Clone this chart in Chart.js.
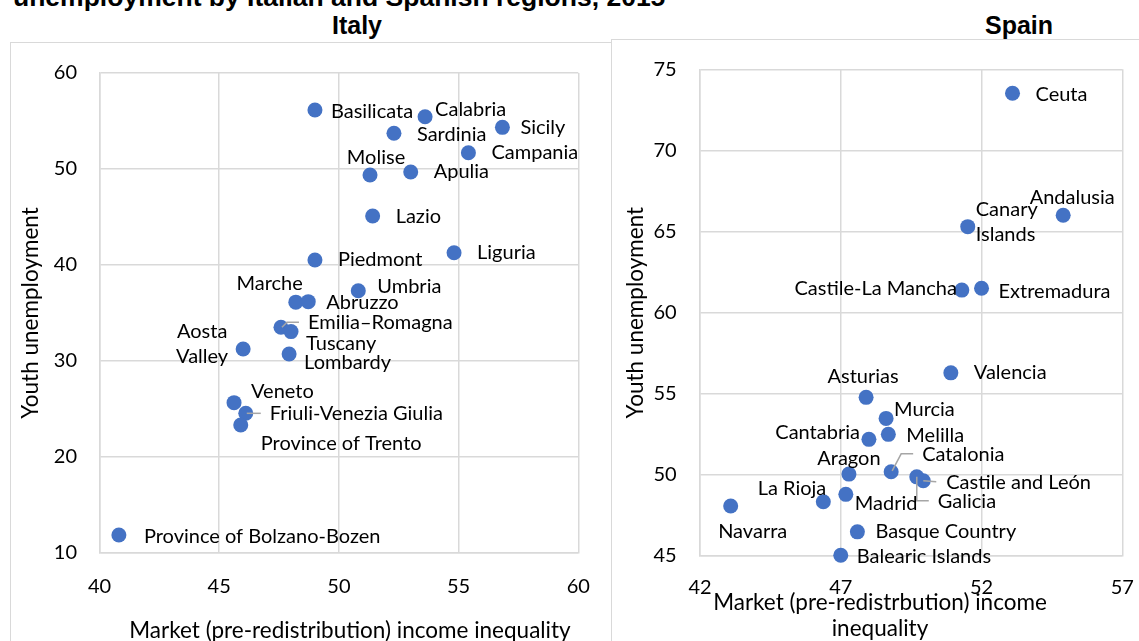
<!DOCTYPE html>
<html><head><meta charset="utf-8">
<script src="https://cdn.jsdelivr.net/npm/chart.js@4.4.1/dist/chart.umd.min.js"></script>
<style>
html,body{margin:0;padding:0;background:#fff;overflow:hidden;width:1139px;height:641px;font-family:Lato,sans-serif;}
.panel{position:absolute;border:1.5px solid #d9d9d9;background:#fff;box-sizing:border-box}
canvas{position:absolute}
.t{position:absolute;white-space:nowrap;color:#000}
.ttl{font-family:"Liberation Sans",Arial,sans-serif;font-weight:bold;font-size:25px;line-height:25px;transform:translate(-50%,-50%)}
.xt{font-family:Lato,sans-serif;font-size:22.5px;line-height:26px;transform:translate(-50%,-50%);text-align:center}
</style></head><body>
<div class="t" style="left:13px;top:-15px;font-family:'Liberation Sans',Arial,sans-serif;font-weight:bold;font-size:26.5px;line-height:24px">unemployment by Italian and Spanish regions, 2015</div>
<div class="t ttl" style="left:357px;top:25px">Italy</div>
<div class="t ttl" style="left:1019px;top:25px">Spain</div>
<div class="panel" style="left:10px;top:42px;width:603px;height:640px"></div>
<div class="panel" style="left:611px;top:39px;width:540px;height:640px"></div>
<canvas id="cIt" width="600" height="598" style="left:11px;top:43px"></canvas>
<canvas id="cEs" width="527" height="601" style="left:612px;top:40px"></canvas>
<div class="t xt" style="left:350px;top:630px">Market (pre-redistribution) income inequality</div>
<div class="t xt" style="left:880px;top:615px">Market (pre-redistrbution) income<br>inequality</div>
<script>
// ---------- DATA ----------
const italyRegions = ["Basilicata","Calabria","Sicily","Sardinia","Campania","Molise","Apulia","Lazio","Piedmont","Liguria","Umbria","Marche","Abruzzo","Emilia–Romagna","Tuscany","Aosta Valley","Lombardy","Veneto","Friuli-Venezia Giulia","Province of Trento","Province of Bolzano-Bozen"];
const italyInequality = [49.0,53.6,56.83,52.3,55.41,51.3,53.0,51.41,49.0,54.81,50.81,48.2,48.72,47.58,48.0,46.0,47.92,45.62,46.11,45.9,40.81];
const italyYouthUnemployment = [56.15,55.45,54.34,53.72,51.7,49.38,49.69,45.1,40.52,41.28,37.32,36.13,36.18,33.51,33.06,31.25,30.73,25.66,24.55,23.33,11.88];

const spainRegions = ["Ceuta","Canary Islands","Andalusia","Castile-La Mancha","Extremadura","Valencia","Asturias","Murcia","Melilla","Cantabria","Catalonia","Aragon","Castile and León","Galicia","Madrid","La Rioja","Navarra","Basque Country","Balearic Islands"];
const spainInequality = [53.1,51.51,54.9,51.3,52.0,50.91,47.9,48.61,48.69,48.0,48.79,47.29,49.93,49.7,47.18,46.38,43.09,47.59,47.0];
const spainYouthUnemployment = [73.52,65.3,66.0,61.39,61.5,56.29,54.78,53.48,52.5,52.19,50.19,50.05,49.64,49.88,48.8,48.34,48.08,46.49,45.05];

const italyXTicks = [40,45,50,55,60];
const italyYTicks = [10,20,30,40,50,60];
const spainXTicks = [42,47,52,57];
const spainYTicks = [45,50,55,60,65,70,75];

// ---------- LABEL PLACEMENT (layout only) ----------
const italyLabelPlacement = {
  "Basilicata":{dx:16,dy:2},
  "Calabria":{dx:10,dy:-7},
  "Sicily":{dx:18,dy:0},
  "Sardinia":{dx:23,dy:1},
  "Campania":{dx:23,dy:0},
  "Molise":{dx:6,dy:-17,align:"center"},
  "Apulia":{dx:23,dy:0},
  "Lazio":{dx:23,dy:1},
  "Piedmont":{dx:23,dy:0},
  "Liguria":{dx:23,dy:0},
  "Umbria":{dx:19,dy:-4},
  "Marche":{dx:7,dy:-19,align:"right"},
  "Abruzzo":{dx:18,dy:1},
  "Emilia–Romagna":{dx:27,dy:-5,leader:[[1,0],[6,-5],[18,-5]]},
  "Tuscany":{dx:15,dy:12},
  "Aosta Valley":{dx:-41,lines:["Aosta","Valley"],dys:[-17,8],align:"center"},
  "Lombardy":{dx:15,dy:9},
  "Veneto":{dx:17,dy:-11},
  "Friuli-Venezia Giulia":{dx:24,dy:0,leader:[[1,0],[15,0]]},
  "Province of Trento":{dx:20,dy:19},
  "Province of Bolzano-Bozen":{dx:25,dy:2}
};
const spainLabelPlacement = {
  "Ceuta":{dx:23,dy:1},
  "Canary Islands":{dx:8,lines:["Canary","Islands"],dys:[-17,8]},
  "Andalusia":{dx:9,dy:-18,align:"center"},
  "Castile-La Mancha":{dx:-5,dy:-2,align:"right"},
  "Extremadura":{dx:17,dy:3},
  "Valencia":{dx:23,dy:0},
  "Asturias":{dx:-3,dy:-21,align:"center"},
  "Murcia":{dx:8,dy:-9},
  "Melilla":{dx:18,dy:1},
  "Cantabria":{dx:-9,dy:-7,align:"right"},
  "Catalonia":{dx:31,dy:-17,leader:[[1,-1],[10,-18],[22,-18]]},
  "Aragon":{dx:0,dy:-16,align:"center"},
  "Castile and León":{dx:23,dy:2,leader:[[0,0],[13,1]]},
  "Galicia":{dx:21,dy:25,leader:[[0,0],[0,24],[12,24]]},
  "Madrid":{dx:9,dy:9},
  "La Rioja":{dx:3,dy:-13,align:"right"},
  "Navarra":{dx:22,dy:26,align:"center"},
  "Basque Country":{dx:18,dy:0},
  "Balearic Islands":{dx:16,dy:1}
};

const FONT = "Lato, 'Open Sans', sans-serif";
const GRID = '#d9d9d9';
const MARK = '#4472C4';

const pointLabels = {
  id:'pointLabels',
  afterDatasetsDraw(chart, args, opts){
    const ctx = chart.ctx;
    const meta = chart.getDatasetMeta(0);
    ctx.save();
    ctx.strokeStyle = '#a6a6a6'; ctx.lineWidth = 1.5;
    opts.names.forEach((n,i)=>{
      const p = opts.placement[n]; const el = meta.data[i];
      if(!p || !p.leader) return;
      ctx.beginPath();
      p.leader.forEach((q,k)=>{ const X=el.x+q[0], Y=el.y+q[1]; k?ctx.lineTo(X,Y):ctx.moveTo(X,Y); });
      ctx.stroke();
    });
    ctx.font = '20px ' + FONT;
    ctx.fillStyle = '#000';
    ctx.textBaseline = 'middle';
    opts.names.forEach((n,i)=>{
      const p = opts.placement[n] || {dx:12,dy:0}; const el = meta.data[i];
      ctx.textAlign = p.align || 'left';
      const lines = p.lines || [n];
      const dys = p.dys || [p.dy||0];
      lines.forEach((t,j)=> ctx.fillText(t, el.x + p.dx, el.y + dys[j]));
    });
    ctx.restore();
  }
};

function makeChart(id, names, xs, ys, xTicks, yTicks, placement, L){
  const pts = xs.map((x,i)=>({x:x, y:ys[i]}));
  return new Chart(document.getElementById(id), {
    type:'scatter',
    data:{datasets:[{data:pts, backgroundColor:MARK, borderWidth:0, pointRadius:7.5, pointHoverRadius:7.5, clip:false}]},
    options:{
      responsive:false, animation:false, events:[],
      layout:{padding:{top:L.top,right:L.right,bottom:0,left:0}},
      plugins:{legend:{display:false}, tooltip:{enabled:false}, pointLabels:{names:names, placement:placement}},
      scales:{
        x:{type:'linear', min:xTicks[0], max:xTicks[xTicks.length-1],
           afterBuildTicks:s=>{s.ticks = xTicks.map(v=>({value:v}));},
           afterFit:s=>{s.height=L.xh;},
           grid:{color:GRID, lineWidth:1.5, drawTicks:true, tickLength:L.xpad, tickColor:'rgba(0,0,0,0)'},
           border:{color:GRID, width:1.5},
           ticks:{font:{family:FONT,size:20}, color:'#000', padding:0, maxRotation:0, autoSkip:false}},
        y:{type:'linear', min:yTicks[0], max:yTicks[yTicks.length-1],
           afterBuildTicks:s=>{s.ticks = yTicks.map(v=>({value:v}));},
           afterFit:s=>{s.width=L.yw;},
           grid:{color:GRID, lineWidth:1.5, drawTicks:true, tickLength:L.ypad, tickColor:'rgba(0,0,0,0)'},
           border:{color:GRID, width:1.5},
           ticks:{font:{family:FONT,size:20}, color:'#000', padding:0, autoSkip:false},
           title:{display:true, text:'Youth unemployment', font:{family:FONT,size:22.5}, color:'#000', padding:{top:L.ytp,bottom:0}}}
      }
    },
    plugins:[pointLabels]
  });
}

makeChart('cIt', italyRegions, italyInequality, italyYouthUnemployment, italyXTicks, italyYTicks, italyLabelPlacement,
  {top:30, right:32.7, xh:88, yw:88.5, xpad:22, ypad:22.5, ytp:6});
makeChart('cEs', spainRegions, spainInequality, spainYouthUnemployment, spainXTicks, spainYTicks, spainLabelPlacement,
  {top:29.3, right:16.7, xh:85, yw:88, xpad:20, ypad:23.3, ytp:10.5});
</script>
</body></html>
